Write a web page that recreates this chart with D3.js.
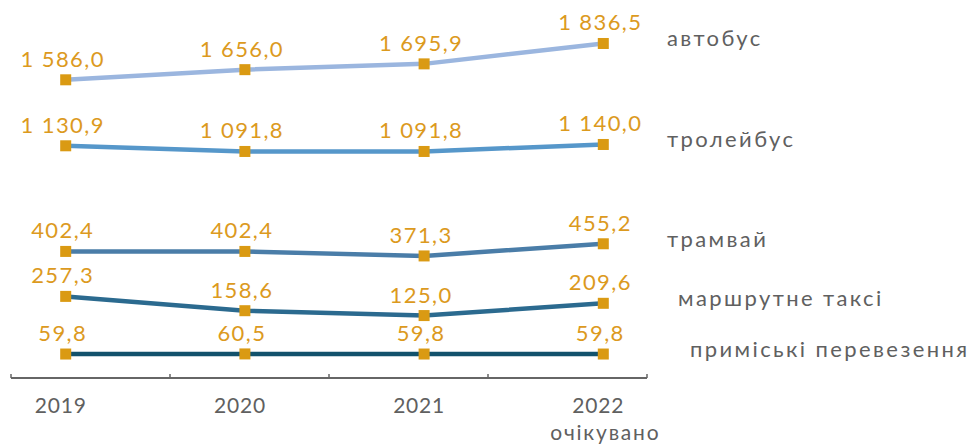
<!DOCTYPE html>
<html lang="uk">
<head>
<meta charset="utf-8">
<title>Пасажироперевезення</title>
<script src="https://cdn.jsdelivr.net/npm/d3@7/dist/d3.min.js"></script>
<style>
  body { margin: 0; background: #fff; }
  svg { display: block; font-family: Lato, "Open Sans", sans-serif; font-weight: 400; }
  .val { fill: #dc9a1e; font-size: 22px; letter-spacing: 1.4px; }
  .name { fill: #606060; font-size: 22px; letter-spacing: 2.4px; }
  .cat { fill: #606060; font-size: 21px; letter-spacing: 0.8px; }
  .note { fill: #606060; font-size: 21px; letter-spacing: 1.8px; }
</style>
</head>
<body>
<svg id="chart" width="973" height="445"></svg>
<script>

var years = ["2019", "2020", "2021", "2022"];
var yearNotes = ["", "", "", "очікувано"];

var seriesNames = ["автобус", "тролейбус", "трамвай", "маршрутне таксі", "приміські перевезення"];

var bus        = [1586.0, 1656.0, 1695.9, 1836.5];
var trolleybus = [1130.9, 1091.8, 1091.8, 1140.0];
var tram       = [402.4, 402.4, 371.3, 455.2];
var minibus    = [257.3, 158.6, 125.0, 209.6];
var suburban   = [59.8, 60.5, 59.8, 59.8];

var seriesValues = [bus, trolleybus, tram, minibus, suburban];

// layout: the chart stacks the series on shifted value axes
var axisShift = [365, 365, 365, 200, 0];
var nameIndent = [0, 0, 0, 11, 23];
var colors = ["#9bb6df", "#5697ca", "#4a7da8", "#2b6a8f", "#12526c"];

var svg = d3.select("#chart");

var x = d3.scalePoint().domain(years).range([65.7, 603.3]);
var y = d3.scaleLinear().domain([0, 2300]).range([362.7, 29.2]);

// x axis drawn as a band frame under the points
var xb = d3.scaleBand().domain(years).range([11, 647]);
var axisG = svg.append("g").attr("transform", "translate(0,378)");
axisG.append("line")
    .attr("x1", xb.range()[0]).attr("x2", xb.range()[1])
    .attr("stroke", "#666").attr("stroke-width", 2);
axisG.selectAll(".tick")
    .data(years.map(function(d) { return xb(d); }).concat([xb.range()[1]]))
  .enter().append("line")
    .attr("x1", function(d) { return d; })
    .attr("x2", function(d) { return d; })
    .attr("y1", -4).attr("y2", 0)
    .attr("stroke", "#666").attr("stroke-width", 1.5);

svg.selectAll(".cat")
    .data(years)
  .enter().append("text")
    .attr("class", "cat")
    .attr("x", function(d) { return x(d) - 5; })
    .attr("y", 413)
    .attr("text-anchor", "middle")
    .text(function(d) { return d; });

svg.selectAll(".note")
    .data(yearNotes)
  .enter().append("text")
    .attr("class", "note")
    .attr("x", function(d, i) { return x(years[i]) + 2; })
    .attr("y", 440)
    .attr("text-anchor", "middle")
    .text(function(d) { return d; });

var fmt = function(v) {
  var s = d3.format(",.1f")(v);
  return s.replace(/,/g, " ").replace(".", ",");
};

var line = d3.line()
    .x(function(d) { return x(d.year); })
    .y(function(d) { return y(d.value + d.shift); });

seriesValues.forEach(function(vals, si) {
  var pts = vals.map(function(v, i) {
    return { year: years[i], value: v, shift: axisShift[si] };
  });
  var g = svg.append("g");

  g.append("path")
      .datum(pts)
      .attr("fill", "none")
      .attr("stroke", colors[si])
      .attr("stroke-width", 4.5)
      .attr("d", line);

  g.selectAll("rect")
      .data(pts)
    .enter().append("rect")
      .attr("x", function(d) { return x(d.year) - 5.5; })
      .attr("y", function(d) { return y(d.value + d.shift) - 5.5; })
      .attr("width", 11).attr("height", 11)
      .attr("fill", "#da9a13");

  g.selectAll("text")
      .data(pts)
    .enter().append("text")
      .attr("class", "val")
      .attr("x", function(d) { return x(d.year) - 3; })
      .attr("y", function(d) { return y(d.value + d.shift) - 13; })
      .attr("text-anchor", "middle")
      .text(function(d) { return fmt(d.value); });

  var last = pts[pts.length - 1];
  svg.append("text")
      .attr("class", "name")
      .attr("x", 667 + nameIndent[si])
      .attr("y", y(last.value + last.shift) + 3)
      .text(seriesNames[si]);
});

</script>
</body>
</html>
